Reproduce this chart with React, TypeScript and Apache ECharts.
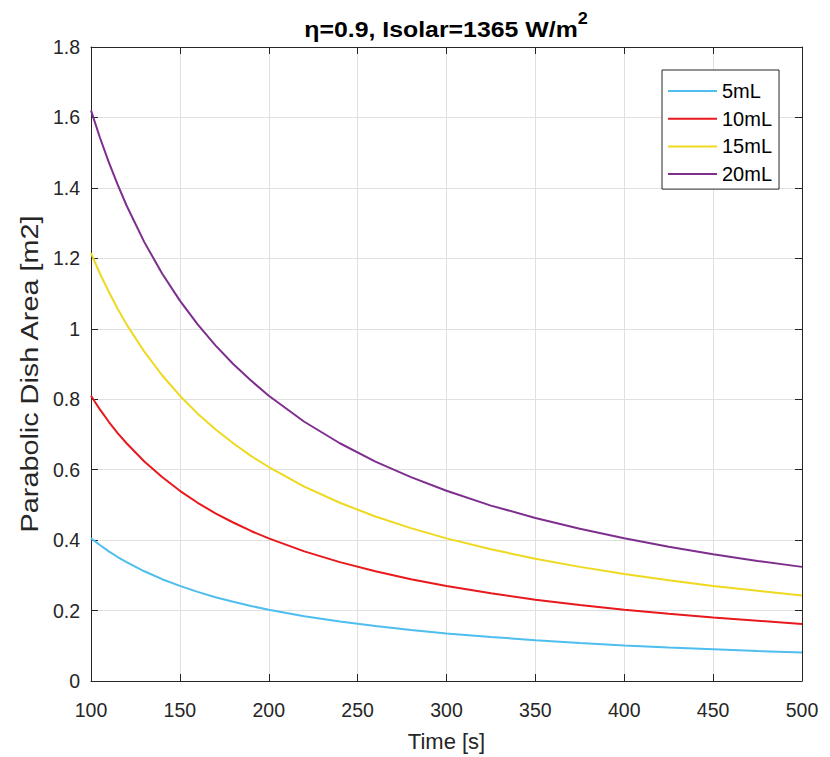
import React, { useEffect, useRef } from "react";
import * as echarts from "echarts";

const times = [100, 105, 110, 115, 120, 130, 140, 150, 160, 170, 180, 190, 200, 220, 240, 260, 280, 300, 325, 350, 375, 400, 425, 450, 475, 500];
const v5 = [0.405, 0.386, 0.368, 0.352, 0.3375, 0.3115, 0.289, 0.27, 0.253, 0.238, 0.225, 0.213, 0.2025, 0.184, 0.169, 0.156, 0.145, 0.135, 0.125, 0.116, 0.108, 0.101, 0.095, 0.09, 0.085, 0.081];
const v10 = [0.81, 0.771, 0.736, 0.704, 0.675, 0.623, 0.579, 0.54, 0.506, 0.476, 0.45, 0.426, 0.405, 0.368, 0.3375, 0.3115, 0.289, 0.27, 0.249, 0.231, 0.216, 0.2025, 0.191, 0.18, 0.171, 0.162];
const v15 = [1.215, 1.157, 1.105, 1.057, 1.0125, 0.935, 0.868, 0.81, 0.759, 0.715, 0.675, 0.639, 0.6075, 0.552, 0.506, 0.467, 0.434, 0.405, 0.374, 0.347, 0.324, 0.304, 0.286, 0.27, 0.256, 0.243];
const v20 = [1.62, 1.543, 1.473, 1.409, 1.35, 1.246, 1.157, 1.08, 1.0125, 0.953, 0.9, 0.853, 0.81, 0.736, 0.675, 0.623, 0.579, 0.54, 0.498, 0.463, 0.432, 0.405, 0.381, 0.36, 0.341, 0.324];
const seriesNames = ["5mL", "10mL", "15mL", "20mL"];
const seriesColors = ["#4DBEEE", "#E8191C", "#EED91F", "#7E2F8E"];
const titleMain = "η=0.9, Isolar=1365 W/m";
const titleSup = "2";
const xLabel = "Time [s]";
const yLabel = "Parabolic Dish Area [m2]";

const FONT = '"Liberation Sans", Arial, Helvetica, sans-serif';
const AX = "#262626";

export default function App() {
  const ref = useRef<HTMLDivElement>(null);
  useEffect(() => {
    if (!ref.current) return;
    const chart = echarts.init(ref.current, undefined, { renderer: "svg" });
    const values = [v5, v10, v15, v20];
    const xBase = {
      type: "value" as const,
      min: 100,
      max: 500,
      interval: 50,
      axisLine: { show: true, onZero: false, lineStyle: { color: AX, width: 1 } },
      axisTick: { show: true, inside: true, length: 7, lineStyle: { color: AX } },
      splitLine: { show: false },
    };
    const yBase = {
      type: "value" as const,
      min: 0,
      max: 1.8,
      interval: 0.2,
      axisLine: { show: true, onZero: false, lineStyle: { color: AX, width: 1 } },
      axisTick: { show: true, inside: true, length: 7, lineStyle: { color: AX } },
      splitLine: { show: false },
    };
    chart.setOption({
      animation: false,
      backgroundColor: "#ffffff",
      textStyle: { fontFamily: FONT },
      graphic: [
        {
          type: "text",
          x: 446,
          y: 11,
          scaleX: 1.13,
          style: {
            text: `{a|${titleMain}}{s|${titleSup}}`,
            align: "center",
            verticalAlign: "top",
            rich: {
              a: { fontSize: 22, fontWeight: "bold", fill: "#000", fontFamily: FONT, lineHeight: 30, verticalAlign: "bottom" },
              s: { fontSize: 16, fontWeight: "bold", fill: "#000", fontFamily: FONT, lineHeight: 12, verticalAlign: "top" },
            },
          },
        },
        {
          type: "text",
          x: 30,
          y: 374,
          rotation: Math.PI / 2,
          scaleX: 1.2,
          style: {
            text: yLabel,
            fontSize: 24,
            fontFamily: FONT,
            fill: AX,
            align: "center",
            verticalAlign: "middle",
          },
        },
      ],
      legend: {
        orient: "vertical",
        left: 662,
        top: 70,
        padding: [11, 7, 5, 6],
        icon: "rect",
        itemWidth: 49,
        itemHeight: 2,
        itemGap: 7.7,
        backgroundColor: "#ffffff",
        borderColor: AX,
        borderWidth: 1,
        borderRadius: 0,
        textStyle: { fontSize: 20, color: "#000", fontFamily: FONT },
        data: seriesNames,
      },
      grid: { left: 91, right: 28, top: 47, bottom: 75, containLabel: false },
      xAxis: [
        {
          ...xBase,
          position: "bottom",
          name: xLabel,
          nameLocation: "middle",
          nameGap: 49,
          nameTextStyle: { fontSize: 22, color: AX, fontFamily: FONT },
          axisLabel: { show: true, margin: 19, fontSize: 19.5, color: AX, fontFamily: FONT },
          splitLine: { show: true, lineStyle: { color: "#e0e0e0", width: 1 } },
        },
        { ...xBase, position: "top", axisLabel: { show: false } },
      ],
      yAxis: [
        {
          ...yBase,
          position: "left",
          axisLabel: {
            show: true,
            margin: 11,
            fontSize: 19.5,
            color: AX,
            fontFamily: FONT,
            formatter: (v: number) => (Math.abs(v) < 1e-9 ? "0" : String(Number(v.toFixed(1)))),
          },
          splitLine: { show: true, lineStyle: { color: "#e0e0e0", width: 1 } },
        },
        { ...yBase, position: "right", axisLabel: { show: false } },
      ],
      series: seriesNames.map((name, i) => ({
        name,
        type: "line",
        xAxisIndex: 0,
        yAxisIndex: 0,
        symbol: "none",
        smooth: false,
        color: seriesColors[i],
        lineStyle: { color: seriesColors[i], width: 2 },
        data: times.map((t, j) => [t, values[i][j]]),
      })),
    });
    return () => chart.dispose();
  }, []);
  return (
    <div
      ref={ref}
      style={{ position: "fixed", left: 0, top: 0, width: 830, height: 757, background: "#fff" }}
    />
  );
}
